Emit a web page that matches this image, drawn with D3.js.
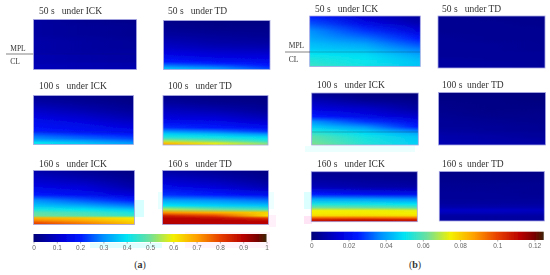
<!DOCTYPE html>
<html>
<head>
<meta charset="utf-8">
<script src="https://cdn.jsdelivr.net/npm/d3@7"></script>
<style>
html,body{margin:0;padding:0;background:#fff;}
svg{display:block;}
text{font-family:"Liberation Serif",serif;fill:#333;white-space:pre;}
</style>
</head>
<body>
<svg id="chart" width="550" height="275"></svg>
<script>
// depth through the layer, 0 = top of panel, 1 = bottom
var depths = [0,.15,.3,.45,.55,.65,.72,.78,.84,.88,.92,.96,1];

// figure (a), each panel sampled on its left, middle and right edge
var a50ick_l = [.05,.05,.05,.06,.06,.06,.07,.07,.07,.07,.08,.08,.08];
var a50ick_m = [.03,.04,.04,.05,.05,.05,.06,.06,.06,.07,.07,.07,.08];
var a50ick_r = [.02,.03,.03,.04,.04,.05,.05,.05,.05,.06,.06,.07,.07];
var a50td_l = [.02,.03,.05,.08,.1,.13,.15,.18,.2,.24,.28,.33,.38];
var a50td_m = [.01,.02,.04,.06,.08,.11,.13,.15,.18,.21,.25,.29,.33];
var a50td_r = [.01,.02,.03,.05,.07,.1,.12,.14,.16,.18,.2,.22,.25];
var a100ick_l = [.03,.06,.1,.14,.16,.18,.2,.24,.28,.3,.34,.4,.42];
var a100ick_m = [.02,.04,.07,.11,.14,.16,.18,.21,.25,.27,.31,.35,.38];
var a100ick_r = [.01,.02,.04,.07,.1,.13,.16,.18,.22,.24,.27,.3,.32];
var a100td_l = [.02,.05,.09,.13,.17,.22,.3,.38,.43,.48,.55,.66,.7];
var a100td_m = [.01,.03,.07,.12,.16,.2,.27,.35,.41,.45,.5,.58,.6];
var a100td_r = [.01,.02,.04,.08,.12,.17,.22,.3,.38,.41,.44,.5,.53];
var a160ick_l = [.06,.1,.14,.2,.3,.36,.42,.48,.5,.68,.72,.78,.82];
var a160ick_m = [.03,.07,.12,.17,.25,.33,.4,.46,.48,.65,.68,.72,.75];
var a160ick_r = [.01,.03,.06,.12,.2,.28,.36,.42,.45,.6,.62,.64,.66];
var a160td_l = [.05,.1,.15,.22,.32,.4,.55,.72,.86,.9,.9,.9,.92];
var a160td_m = [.03,.07,.12,.2,.3,.38,.5,.68,.8,.88,.9,.9,.9];
var a160td_r = [.01,.03,.07,.16,.27,.36,.46,.64,.62,.8,.88,.9,.9];

// figure (b)
var b50ick_l = [.025,.031,.038,.041,.044,.046,.049,.051,.053,.054,.055,.056,.057];
var b50ick_m = [.013,.019,.028,.035,.04,.044,.047,.049,.05,.051,.051,.052,.052];
var b50ick_r = [.005,.009,.016,.025,.03,.035,.038,.041,.043,.044,.045,.045,.045];
var b50td_l = [.004,.004,.004,.005,.005,.005,.005,.005,.006,.006,.006,.006,.006];
var b50td_m = [.003,.004,.004,.004,.005,.005,.005,.005,.005,.006,.006,.006,.006];
var b50td_r = [.003,.003,.004,.004,.004,.004,.005,.005,.005,.005,.005,.005,.005];
var b100ick_l = [.003,.01,.016,.025,.038,.046,.052,.056,.06,.061,.062,.063,.065];
var b100ick_m = [.001,.005,.013,.019,.028,.038,.045,.049,.052,.053,.053,.054,.054];
var b100ick_r = [0,.003,.006,.013,.019,.025,.034,.041,.045,.046,.046,.047,.047];
var b100td_l = [.001,.002,.003,.004,.005,.005,.006,.007,.008,.008,.009,.009,.009];
var b100td_m = [.001,.002,.002,.003,.004,.005,.005,.006,.007,.007,.008,.008,.008];
var b100td_r = [.001,.001,.002,.003,.003,.004,.004,.005,.005,.006,.006,.007,.007];
var b160ick_l = [.004,.006,.01,.025,.041,.053,.063,.075,.076,.079,.094,.106,.113];
var b160ick_m = [.003,.005,.008,.022,.04,.052,.062,.075,.076,.079,.094,.108,.114];
var b160ick_r = [.002,.004,.007,.02,.038,.05,.06,.074,.075,.078,.092,.106,.112];
var b160td_l = [.002,.003,.004,.005,.005,.006,.008,.012,.01,.007,.006,.006,.006];
var b160td_m = [.002,.003,.004,.005,.005,.006,.008,.012,.01,.007,.006,.006,.006];
var b160td_r = [.002,.003,.004,.004,.005,.006,.008,.011,.009,.007,.006,.006,.006];

var ticksA = [0,.1,.2,.3,.4,.5,.6,.7,.8,.9,1];
var ticksB = [0,.02,.04,.06,.08,.1,.12];
var maxA = 1;
var maxB = .125;

// jet-like map, 0 to 1
var colorStops = [0,.12,.2,.3,.4,.5,.6,.7,.8,.9,.96,1];
var colorValues = ["#00007a","#0000d8","#0018ff","#0090ff","#00e4f4","#70e09a","#f4f000","#ffa000","#e84000","#b80000","#7a0000","#3c2408"];
var jet = d3.scaleLinear().domain(colorStops).range(colorValues).interpolate(d3.interpolateRgb).clamp(true);

var panels = [
	{id:"a1",title:"50 s   under ICK",x:33.5,y:19.5,w:103,h:50,tx:39,ty:14,max:maxA,l:a50ick_l,m:a50ick_m,r:a50ick_r},
	{id:"a2",title:"50 s   under TD",x:163.5,y:20.5,w:106.5,h:49,tx:168,ty:14,max:maxA,l:a50td_l,m:a50td_m,r:a50td_r},
	{id:"a3",title:"100 s   under ICK",x:33.5,y:95.5,w:100,h:49,tx:39,ty:89,max:maxA,l:a100ick_l,m:a100ick_m,r:a100ick_r},
	{id:"a4",title:"100 s   under TD",x:163,y:95.5,w:105,h:49.5,tx:168,ty:89,max:maxA,l:a100td_l,m:a100td_m,r:a100td_r},
	{id:"a5",title:"160 s   under ICK",x:33.5,y:170.5,w:101,h:54,tx:39,ty:167,max:maxA,l:a160ick_l,m:a160ick_m,r:a160ick_r},
	{id:"a6",title:"160 s   under TD",x:162.5,y:170.5,w:106,h:54,tx:168,ty:167,max:maxA,l:a160td_l,m:a160td_m,r:a160td_r},
	{id:"b1",title:"50 s   under ICK",x:309.7,y:16,w:110.6,h:50.5,tx:315,ty:12,max:maxB,l:b50ick_l,m:b50ick_m,r:b50ick_r},
	{id:"b2",title:"50 s   under TD",x:438,y:16,w:107,h:52,tx:442,ty:12,max:maxB,l:b50td_l,m:b50td_m,r:b50td_r},
	{id:"b3",title:"100 s   under ICK",x:311.7,y:93,w:106.6,h:52,tx:317,ty:88,max:maxB,l:b100ick_l,m:b100ick_m,r:b100ick_r},
	{id:"b4",title:"100 s  under TD",x:438.5,y:92.5,w:107,h:52.5,tx:442,ty:88,max:maxB,l:b100td_l,m:b100td_m,r:b100td_r},
	{id:"b5",title:"160 s   under ICK",x:311.3,y:171.7,w:106,h:50,tx:317,ty:167,max:maxB,l:b160ick_l,m:b160ick_m,r:b160ick_r},
	{id:"b6",title:"160 s  under TD",x:439.3,y:171.5,w:105,h:49.5,tx:442,ty:167,max:maxB,l:b160td_l,m:b160td_m,r:b160td_r}
];

var svg = d3.select("#chart");
var defs = svg.append("defs");

// soft look of the scanned figure
var soft = defs.append("filter").attr("id","soft").attr("x","-5%").attr("y","-20%").attr("width","110%").attr("height","140%");
soft.append("feGaussianBlur").attr("stdDeviation",0.3);
var softer = defs.append("filter").attr("id","softer").attr("x","-5%").attr("y","-5%").attr("width","110%").attr("height","110%");
softer.append("feGaussianBlur").attr("stdDeviation",0.5);

// horizontal masks blending the edge samples into the middle one
function add_mask(id,stops){
	var g = defs.append("linearGradient").attr("id",id+"_g");
	stops.forEach(function(s){
		g.append("stop").attr("offset",s[0]).attr("stop-color",s[1]);
	});
	defs.append("mask").attr("id",id)
		.attr("maskContentUnits","objectBoundingBox")
		.attr("maskUnits","objectBoundingBox")
		.attr("x",0).attr("y",0).attr("width",1).attr("height",1)
		.append("rect").attr("width",1).attr("height",1).attr("fill","url(#"+id+"_g)");
}
add_mask("fadeLeft",[[0,"#fff"],[.5,"#000"]]);
add_mask("fadeRight",[[.5,"#000"],[1,"#fff"]]);

// pale ghost blocks left around the panels by the jpeg
var ghosts = [
	{x:134,y:200,w:10,h:17,c:"#d8ffff"},
	{x:158,y:192,w:5,h:17,c:"#e8ffff"},
	{x:268,y:192,w:6,h:17,c:"#eeffff"},
	{x:269,y:215,w:7,h:12,c:"#fff0fa"},
	{x:90,y:243,w:72,h:5,c:"#e0ffff"},
	{x:185,y:232,w:85,h:16,c:"#fff4fc"},
	{x:304,y:192,w:8,h:17,c:"#dcffff"},
	{x:304,y:216,w:8,h:8,c:"#ffe4f6"},
	{x:305,y:146,w:110,h:6,c:"#ecffff"}
];
svg.selectAll("rect.ghost").data(ghosts).join("rect").attr("class","ghost")
	.attr("x",function(d){return d.x;}).attr("y",function(d){return d.y;})
	.attr("width",function(d){return d.w;}).attr("height",function(d){return d.h;})
	.attr("fill",function(d){return d.c;});

function add_column(p,name,values){
	var y = d3.scaleLinear().domain([0,1]).range([p.y,p.y+p.h]);
	var grad = defs.append("linearGradient").attr("id",p.id+name)
		.attr("gradientUnits","userSpaceOnUse")
		.attr("x1",0).attr("x2",0).attr("y1",y(0)).attr("y2",y(1));
	grad.selectAll("stop").data(values).join("stop")
		.attr("offset",function(d,i){return depths[i];})
		.attr("stop-color",function(d){return jet(d/p.max);});
}

var panel = svg.selectAll("g.panel").data(panels).join("g").attr("class","panel");
panel.each(function(p){
	add_column(p,"l",p.l);
	add_column(p,"m",p.m);
	add_column(p,"r",p.r);
	var g = d3.select(this).append("g").attr("filter","url(#softer)");
	g.append("rect").attr("fill","url(#"+p.id+"m)");
	g.append("rect").attr("fill","url(#"+p.id+"l)").attr("mask","url(#fadeLeft)");
	g.append("rect").attr("fill","url(#"+p.id+"r)").attr("mask","url(#fadeRight)");
	g.selectAll("rect")
		.attr("x",p.x).attr("y",p.y).attr("width",p.w).attr("height",p.h);
	d3.select(this).append("rect")
		.attr("x",p.x).attr("y",p.y).attr("width",p.w).attr("height",p.h)
		.attr("fill","none").attr("stroke","#a8a8e4").attr("stroke-width",.8);
	d3.select(this).append("text").text(p.title)
		.attr("x",p.tx).attr("y",p.ty).attr("font-size",9.5).attr("filter","url(#soft)");
});

// MPL / CL interface lines
var interfaces = [
	{x1:6,x2:33,y:54,o:.8},
	{x1:33,x2:136,y:54,o:.12},
	{x1:33,x2:133,y:132,o:.15},
	{x1:285,x2:310,y:52,o:.8},
	{x1:310,x2:420,y:52,o:.35},
	{x1:312,x2:418,y:132,o:.35}
];
svg.selectAll("line.iface").data(interfaces).join("line").attr("class","iface")
	.attr("x1",function(d){return d.x1;}).attr("x2",function(d){return d.x2;})
	.attr("y1",function(d){return d.y;}).attr("y2",function(d){return d.y;})
	.attr("stroke","#222").attr("stroke-width",.7).attr("opacity",function(d){return d.o;});

var sideLabels = [
	{t:"MPL",x:18,y:50.5},{t:"CL",x:15,y:63.5},
	{t:"MPL",x:296.5,y:47.5},{t:"CL",x:293.5,y:61.5}
];
svg.selectAll("text.side").data(sideLabels).join("text").attr("class","side")
	.text(function(d){return d.t;})
	.attr("x",function(d){return d.x;}).attr("y",function(d){return d.y;})
	.attr("text-anchor","middle").attr("font-size",7.5).attr("filter","url(#soft)");

// colorbars
function draw_colorbar(id,max,ticks,x0,x1,y0,y1,fmt){
	var x = d3.scaleLinear().domain([0,max]).range([x0,x1]);
	var grad = defs.append("linearGradient").attr("id",id);
	grad.selectAll("stop").data(colorStops).join("stop")
		.attr("offset",function(d){return d;})
		.attr("stop-color",function(d,i){return colorValues[i];});
	svg.append("rect").attr("x",x0).attr("y",y0).attr("width",x1-x0).attr("height",y1-y0)
		.attr("fill","url(#"+id+")").attr("filter","url(#soft)");
	var axis = d3.axisBottom(x).tickValues(ticks).tickFormat(fmt).tickSize(1.5).tickPadding(1.5);
	var g = svg.append("g").attr("transform","translate(0,"+y1+")").call(axis);
	g.select(".domain").remove();
	g.selectAll("line").attr("stroke","#555").attr("stroke-width",.5);
	g.selectAll("text").attr("font-size",6.5).attr("filter","url(#soft)")
		.style("font-family","'Liberation Sans',sans-serif").style("fill","#666");
}
draw_colorbar("cbA",maxA,ticksA,33.5,266.5,234,242,d3.format("~g"));
draw_colorbar("cbB",maxB,ticksB,311.3,543.7,231.7,240,d3.format("~g"));

// sub figure captions
var captions = [{t:"a",x:140},{t:"b",x:415}];
var cap = svg.selectAll("text.cap").data(captions).join("text").attr("class","cap")
	.attr("x",function(d){return d.x;}).attr("y",268)
	.attr("text-anchor","middle").attr("font-size",10);
cap.append("tspan").text("(");
cap.append("tspan").attr("font-weight","bold").text(function(d){return d.t;});
cap.append("tspan").text(")");
</script>
</body>
</html>
